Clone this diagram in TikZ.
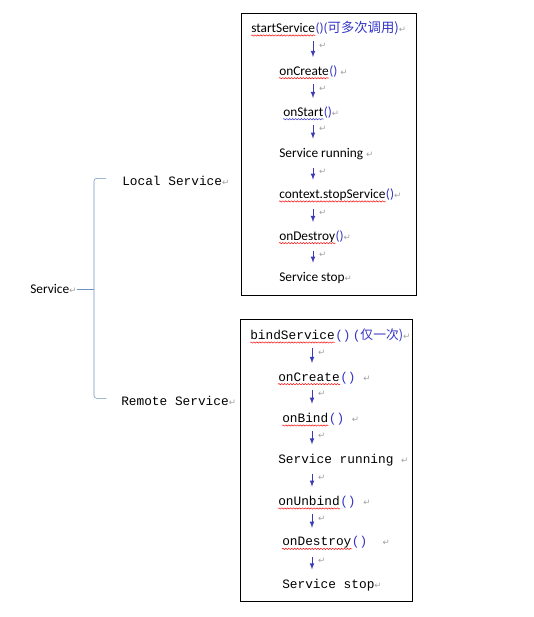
\documentclass[tikz,border=0pt]{standalone}
\usepackage{fontspec}
\setmainfont{Carlito}
\newfontfamily\simfont{Liberation Mono}
\newfontfamily\cjk{Noto Sans CJK SC}
\newfontfamily\symfont{DejaVu Sans}
\usetikzlibrary{arrows,decorations.pathmorphing}
\definecolor{callblue}{HTML}{3434C8}
\definecolor{arrblue}{HTML}{3C3CB4}
\definecolor{crgray}{HTML}{A0A0A0}
\definecolor{bracecol}{HTML}{6F92C2}
\newcommand\crmark{{\symfont\color{crgray}\fontsize{6.5}{6.5}\selectfont ↵}}
\newcommand\pp{\textcolor{callblue}{()}}
\tikzset{tx/.append style={anchor=west,inner sep=0pt,font=\fontsize{10}{11}\selectfont}}
\tikzset{sx/.append style={anchor=west,inner sep=0pt,font=\simfont\fontsize{9.6}{10}\selectfont}}
\tikzset{dn/.append style={-latex,color=arrblue,semithick,shorten <=6pt,shorten >=7pt}}
\tikzset{bx/.append style={draw,line width=0.6pt}}
\tikzset{wv/.append style={decorate,decoration={snake,amplitude=0.5pt,segment length=2.2pt},line width=0.35pt}}

\begin{document}
\begin{tikzpicture}[x=0.75pt,y=-0.75pt]
                \useasboundingbox (0,0) rectangle (533,617);
                % the two boxes
                \draw[bx] (241,13) rectangle (416,295);
                \draw[bx] (240,319) rectangle (412,601);
                % local service
                \node[tx] (s1) at (251,28) {startService};
                \node[tx] (s2) at (279,71) {onCreate};
                \node[tx] (s3) at (283,112) {onStart};
                \node[tx] (s4) at (279,154) {Service running \crmark};
                \node[tx] (s5) at (279,195) {context.stopService};
                \node[tx] (s6) at (279,237) {onDestroy};
                \node[tx] (s7) at (279,278) {Service stop\crmark};
                \node[tx,anchor=base west] (s1p) at (s1.base east) {\textcolor{callblue}{()(\cjk 可多次调用)}\crmark};
                \node[tx,anchor=base west] (s2p) at (s2.base east) {\pp\ \crmark};
                \node[tx,anchor=base west] (s3p) at (s3.base east) {\pp\crmark};
                \node[tx,anchor=base west] (s5p) at (s5.base east) {\pp\crmark};
                \node[tx,anchor=base west] (s6p) at (s6.base east) {\pp\crmark};
                \coordinate (ax) at (313,0);
                \foreach \a/\b in {s1/s2,s2/s3,s3/s4,s4/s5,s5/s6,s6/s7}
                    \draw[dn] (\a.south -| ax) -- (\b.north -| ax) node[pos=0.4,right=1pt]{\crmark};
                % remote service
                \node[sx] (r1) at (250,335) {bindService};
                \node[sx] (r2) at (278,377) {onCreate};
                \node[sx] (r3) at (282,418) {onBind};
                \node[sx] (r4) at (278,460) {Service running \crmark};
                \node[sx] (r5) at (278,501) {onUnbind};
                \node[sx] (r6) at (282,543) {onDestroy};
                \node[sx] (r7) at (282,585) {Service stop\crmark};
                \node[sx,anchor=base west] (r1p) at (r1.base east) {\textcolor{callblue}{()\,(\cjk 仅一次)}\crmark};
                \node[sx,anchor=base west] (r2p) at (r2.base east) {\pp\ \crmark};
                \node[sx,anchor=base west] (r3p) at (r3.base east) {\pp\ \crmark};
                \node[sx,anchor=base west] (r5p) at (r5.base east) {\pp\ \crmark};
                \node[sx,anchor=base west] (r6p) at (r6.base east) {\pp\ \ \crmark};
                \coordinate (bx) at (312,0);
                \foreach \a/\b in {r1/r2,r2/r3,r3/r4,r4/r5,r5/r6,r6/r7}
                    \draw[dn] (\a.south -| bx) -- (\b.north -| bx) node[pos=0.4,right=1pt]{\crmark};
                % spelling waves
                \foreach \n/\c in {s1/red,s2/red,s3/callblue,s5/red,s6/red,r1/red,r2/red,r3/red,r5/red,r6/red}
                    \draw[wv,\c] ([yshift=-2.2pt]\n.base west) -- ([yshift=-2.2pt]\n.base east);
                % the brace
                \node[tx] (sv) at (30,289) {Service\crmark};
                \node[sx] (loc) at (122,181) {Local Service\crmark};
                \node[sx] (rem) at (121,401) {Remote Service\crmark};
                \draw[bracecol,rounded corners=2pt] ([xshift=-12pt,yshift=2pt]loc.west) -| (94,289)
                    |- ([xshift=-11pt,yshift=2pt]rem.west);
                \draw[bracecol] ([xshift=0.5pt]sv.east) -- (94,289);
            \end{tikzpicture}
\end{document}
